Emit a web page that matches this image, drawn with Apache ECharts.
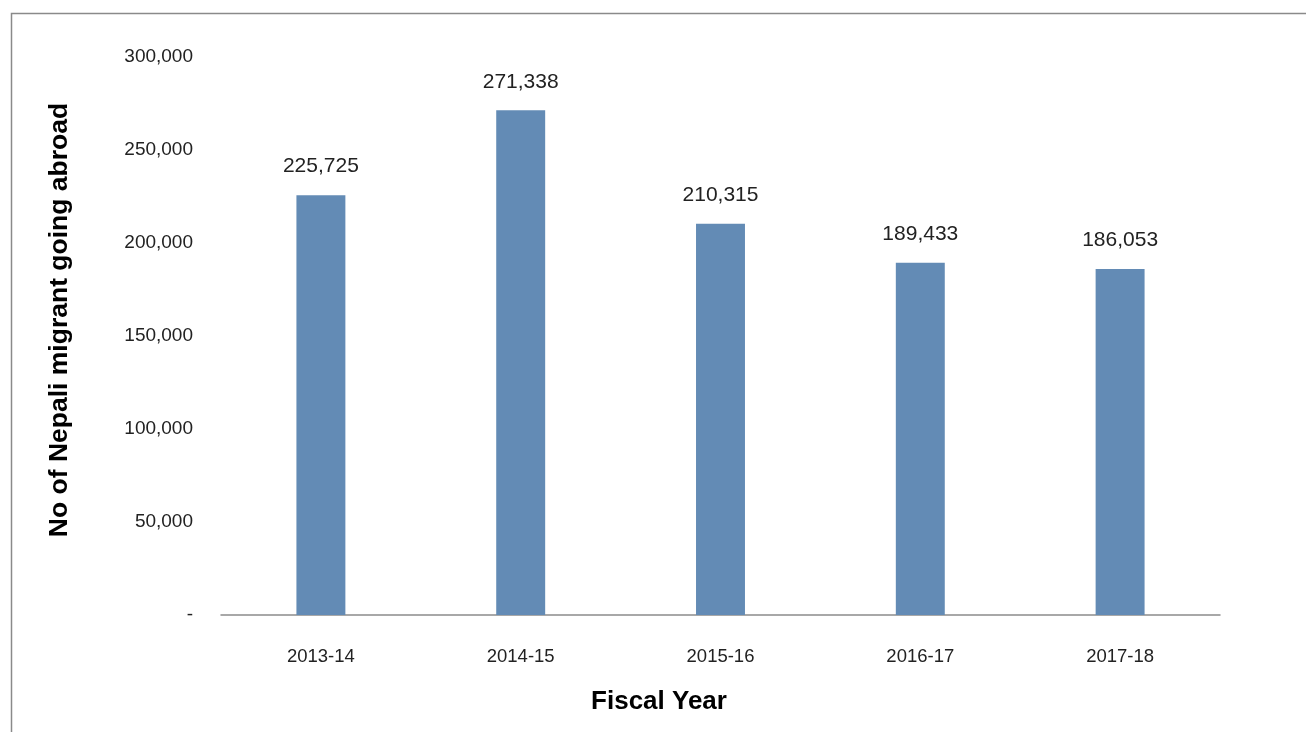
<!DOCTYPE html>
<html>
<head>
<meta charset="utf-8">
<script src="https://cdn.jsdelivr.net/npm/echarts@6/dist/echarts.min.js"></script>
<style>
  html, body { margin: 0; padding: 0; background: #fff; }
  #chart { width: 1306px; height: 732px; }
</style>
</head>
<body>
<div id="chart"></div>
<script>
// Nepali labour migrants leaving the country, by fiscal year
const fiscalYears = ['2013-14', '2014-15', '2015-16', '2016-17', '2017-18'];
const migrants = [225725, 271338, 210315, 189433, 186053];
const yTicks = [0, 50000, 100000, 150000, 200000, 250000, 300000];

const fmt = v => v === 0 ? '-' : v.toLocaleString('en-US');
const FONT = '"Liberation Sans", Arial, Helvetica, sans-serif';

const chart = echarts.init(document.getElementById('chart'), null, { renderer: 'canvas' });
chart.setOption({
  animation: false,
  backgroundColor: '#ffffff',
  textStyle: { fontFamily: FONT },
  grid: { left: 221, right: 86, top: 57, bottom: 117 },
  xAxis: {
    type: 'category',
    data: fiscalYears,
    axisLine: { lineStyle: { color: '#8c8c8c', width: 1.5 } },
    axisTick: { show: false },
    axisLabel: { color: '#222', fontSize: 18.5, margin: 32, fontFamily: FONT }
  },
  yAxis: {
    type: 'value',
    min: yTicks[0],
    max: yTicks[yTicks.length - 1],
    interval: yTicks[1] - yTicks[0],
    axisLine: { show: false },
    axisTick: { show: false },
    splitLine: { show: false },
    axisLabel: { color: '#222', fontSize: 19, margin: 28, formatter: fmt, fontFamily: FONT }
  },
  series: [{
    type: 'bar',
    data: migrants,
    barWidth: '24.5%',
    itemStyle: { color: '#638bb5' },
    label: {
      show: true,
      position: 'top',
      distance: 18,
      color: '#222',
      fontSize: 21,
      fontFamily: FONT,
      formatter: p => fmt(p.value)
    }
  }],
  graphic: [
    {
      type: 'polyline',
      shape: { points: [[11.5, 732], [11.5, 13.5], [1306, 13.5]] },
      style: { stroke: '#8a8a8a', lineWidth: 1.5, fill: null },
      silent: true
    },
    {
      type: 'text',
      x: 60, y: 320,
      rotation: Math.PI / 2,
      style: {
        text: 'No of Nepali migrant going abroad',
        font: 'bold 26.5px ' + FONT,
        fill: '#000',
        align: 'center',
        verticalAlign: 'middle'
      }
    },
    {
      type: 'text',
      x: 659, y: 702,
      style: {
        text: 'Fiscal Year',
        font: 'bold 26px ' + FONT,
        fill: '#000',
        align: 'center',
        verticalAlign: 'middle'
      }
    }
  ]
});
</script>
</body>
</html>
